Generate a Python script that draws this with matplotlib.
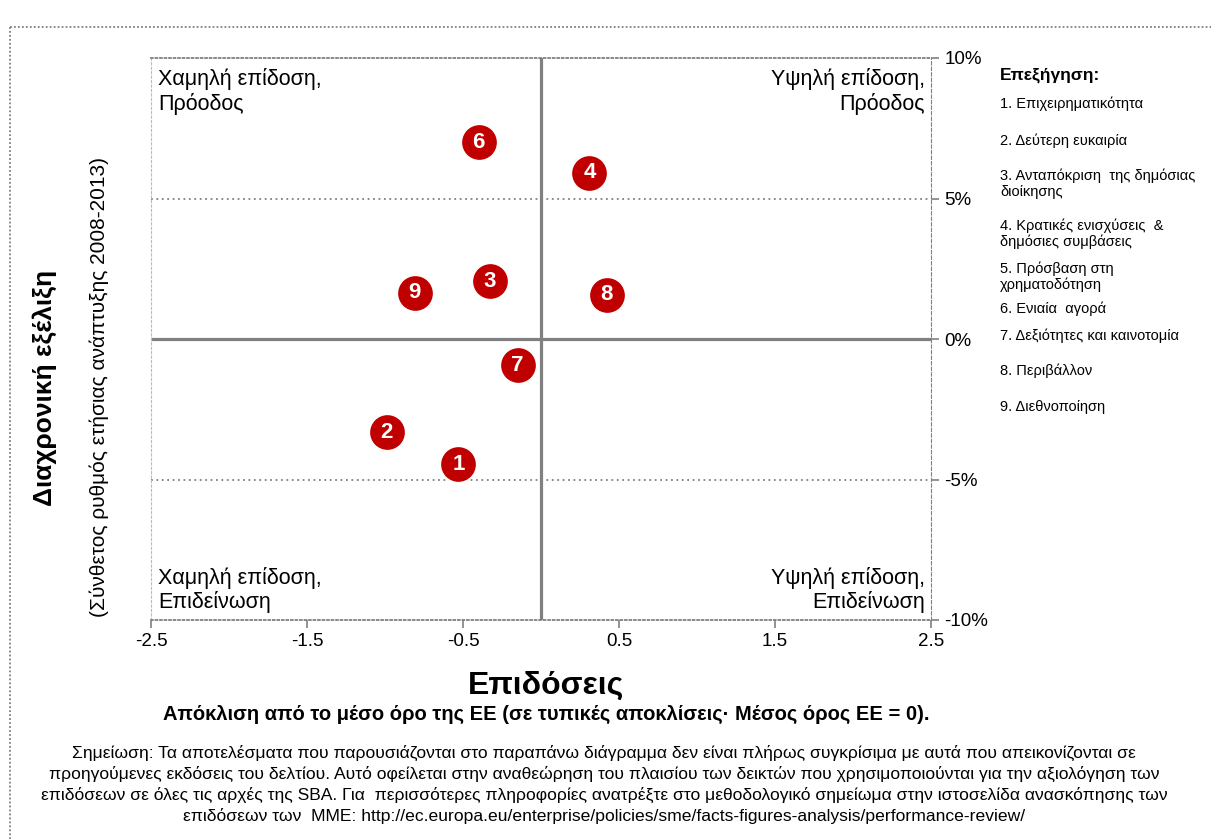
import matplotlib.pyplot as plt
from matplotlib.lines import Line2D

plt.rcParams['font.family'] = ['Liberation Sans', 'DejaVu Sans']

# data
labels = ['1', '2', '3', '4', '6', '7', '8', '9']
performance = [-0.53, -0.99, -0.33, 0.31, -0.40, -0.15, 0.42, -0.81]
growth = [-4.45, -3.31, 2.06, 5.91, 7.01, -0.93, 1.57, 1.64]

xticks = [-2.5, -1.5, -0.5, 0.5, 1.5, 2.5]
yticks = [-10, -5, 0, 5, 10]

legend_title = 'Επεξήγηση:'
legend_items = ['1. Επιχειρηματικότητα',
                '2. Δεύτερη ευκαιρία',
                '3. Ανταπόκριση  της δημόσιας\nδιοίκησης',
                '4. Κρατικές ενισχύσεις  &\nδημόσιες συμβάσεις',
                '5. Πρόσβαση στη\nχρηματοδότηση',
                '6. Ενιαία  αγορά',
                '7. Δεξιότητες και καινοτομία',
                '8. Περιβάλλον',
                '9. Διεθνοποίηση']
legend_y = [104, 141, 184, 234, 277, 309, 336, 371, 407]

note = ('Σημείωση: Τα αποτελέσματα που παρουσιάζονται στο παραπάνω διάγραμμα δεν είναι πλήρως συγκρίσιμα με αυτά που απεικονίζονται σε\n'
        'προηγούμενες εκδόσεις του δελτίου. Αυτό οφείλεται στην αναθεώρηση του πλαισίου των δεικτών που χρησιμοποιούνται για την αξιολόγηση των\n'
        'επιδόσεων σε όλες τις αρχές της SBA. Για  περισσότερες πληροφορίες ανατρέξτε στο μεθοδολογικό σημείωμα στην ιστοσελίδα ανασκόπησης των\n'
        'επιδόσεων των  ΜΜΕ: http://ec.europa.eu/enterprise/policies/sme/facts-figures-analysis/performance-review/')

W, H = 1211, 839
grey = '#808080'
red = '#C00000'

fig = plt.figure(figsize=(W / 100, H / 100), dpi=100)
ax = fig.add_axes([151 / W, 1 - 620 / H, 780 / W, 562 / H])

# quadrant dividers and 5% guides
ax.axvline(0, color=grey, lw=2.3, zorder=1)
ax.axhline(0, color=grey, lw=2.3, zorder=1)
for g in (-5, 5):
    ax.axhline(g, color=grey, lw=1.3, ls=(0, (1, 2)), zorder=1)

ax.plot(performance, growth, 'o', ms=26, color=red, mec='white', mew=1, zorder=3)
for lab, x, y in zip(labels, performance, growth):
    ax.text(x, y, lab, color='white', fontsize=16, fontweight='bold',
            ha='center', va='center', zorder=4)

ax.set_xlim(-2.5, 2.5)
ax.set_ylim(-10, 10)
ax.set_xticks(xticks)
ax.set_xticklabels([f'{t:g}' for t in xticks])
ax.set_yticks(yticks)
ax.set_yticklabels([f'{t}%' for t in yticks])
ax.yaxis.tick_right()
ax.tick_params(colors=grey, labelcolor='black', length=6, width=1.2)
ax.tick_params(axis='both', labelsize=13.5)

for side in ('top', 'bottom'):
    ax.spines[side].set_linestyle((0, (1, 1.5)))
    ax.spines[side].set_color(grey)
    ax.spines[side].set_linewidth(1.3)
ax.spines['right'].set_linestyle((0, (3, 2)))
ax.spines['right'].set_color(grey)
ax.spines['left'].set_linestyle((0, (2, 2)))
ax.spines['left'].set_color('#bbbbbb')
ax.spines['left'].set_linewidth(0.8)

# quadrant captions
qkw = dict(transform=ax.transAxes, fontsize=15.5, linespacing=1.15)
ax.text(0.009, 0.982, 'Χαμηλή επίδοση,\nΠρόοδος', ha='left', va='top', **qkw)
ax.text(0.992, 0.982, 'Υψηλή επίδοση,\nΠρόοδος', ha='right', va='top', **qkw)
ax.text(0.009, 0.012, 'Χαμηλή επίδοση,\nΕπιδείνωση', ha='left', va='bottom', **qkw)
ax.text(0.992, 0.012, 'Υψηλή επίδοση,\nΕπιδείνωση', ha='right', va='bottom', **qkw)

# axis titles
fig.text(546 / W, 1 - 686 / H, 'Επιδόσεις', ha='center', va='center',
         fontsize=23, fontweight='bold')
fig.text(546 / W, 1 - 714 / H,
         'Απόκλιση από το μέσο όρο της ΕΕ (σε τυπικές αποκλίσεις· Μέσος όρος ΕΕ = 0).',
         ha='center', va='center', fontsize=14.5, fontweight='bold')
fig.text(45 / W, 1 - 388 / H, 'Διαχρονική εξέλιξη', rotation=90, ha='center',
         va='center', fontsize=19, fontweight='bold')
fig.text(99 / W, 1 - 387 / H, '(Σύνθετος ρυθμός ετήσιας ανάπτυξης 2008-2013)',
         rotation=90, ha='center', va='center', fontsize=15)

# legend box on the right
fig.text(1000 / W, 1 - 75 / H, legend_title, ha='left', va='center',
         fontsize=12.5, fontweight='bold')
for item, yy in zip(legend_items, legend_y):
    fig.text(1000 / W, 1 - yy / H, item, ha='left', va='center',
             fontsize=10.5, linespacing=1.15)

# footnote
fig.text(604 / W, 1 - 784 / H, note, ha='center', va='center',
         fontsize=12.6, linespacing=1.38)

# dotted frame around the chart
fig.add_artist(Line2D([10 / W, 1], [1 - 27 / H] * 2, color=grey, lw=1.3,
                      ls=(0, (1, 1.2)), transform=fig.transFigure))
fig.add_artist(Line2D([10 / W] * 2, [1 - 27 / H, 0], color=grey, lw=1.3,
                      ls=(0, (1, 1.2)), transform=fig.transFigure))

fig.savefig('out.png', dpi=100)
